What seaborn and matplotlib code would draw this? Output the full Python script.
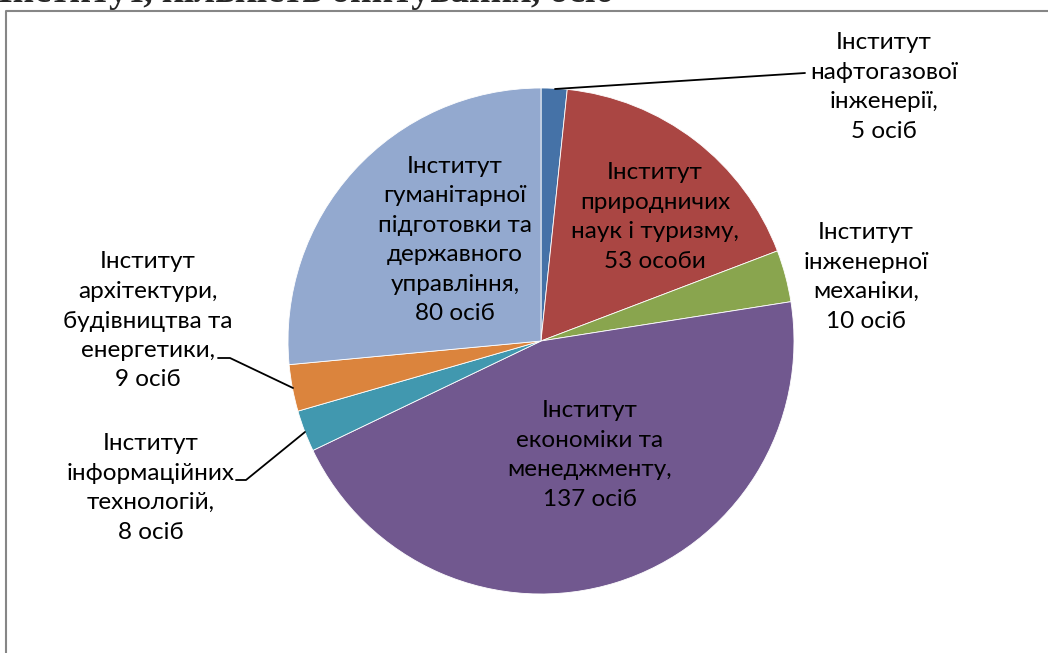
import matplotlib
matplotlib.use("Agg")
import matplotlib.pyplot as plt
import seaborn as sns

# data
institutes = [
    "Інститут\nнафтогазової\nінженерії,\n5 осіб",
    "Інститут\nприродничих\nнаук і туризму,\n53 особи",
    "Інститут\nінженерної\nмеханіки,\n10 осіб",
    "Інститут\nекономіки та\nменеджменту,\n137 осіб",
    "Інститут\nінформаційних\nтехнологій,\n8 осіб",
    "Інститут\nархітектури,\nбудівництва та\nенергетики,\n9 осіб",
    "Інститут\nгуманітарної\nпідготовки та\nдержавного\nуправління,\n80 осіб",
]
respondents = [5, 53, 10, 137, 8, 9, 80]
colors = ["#4572A7", "#AA4643", "#89A54E", "#71588F", "#4198AF", "#DB843D", "#93A9CF"]
title = "Інститут, кількість опитуваних, осіб"

sns.set_theme(style="white")
plt.rcParams["font.family"] = ["Lato", "DejaVu Sans"]

W, H = 1048, 653
fig = plt.figure(figsize=(W / 100, H / 100), dpi=100)
ax = fig.add_axes([0, 0, 1, 1])
ax.axis("off")

cx, cy, r = 541, H - 341, 253
ax.pie(respondents, colors=sns.color_palette(colors), startangle=90, counterclock=False,
       center=(cx, cy), radius=r, wedgeprops=dict(linewidth=0.6, edgecolor="white"))
ax.set_aspect("equal")
ax.set_xlim(0, W)
ax.set_ylim(0, H)

# label positions (pixels from top-left)
label_pos = [(884, 87), (655, 217), (866, 277), (590, 455), (151, 488), (148, 321), (455, 240)]
for txt, (px, py) in zip(institutes, label_pos):
    ax.text(px, H - py, txt, ha="center", va="center", fontsize=17.5,
            linespacing=1.5, color="black")

# leader lines
leaders = [
    [(555, 89), (805, 73)],
    [(293, 388), (230, 358), (218, 358)],
    [(305, 432), (246, 480), (236, 480)],
]
for pts in leaders:
    xs = [p[0] for p in pts]
    ys = [H - p[1] for p in pts]
    ax.plot(xs, ys, color="black", lw=1.3)

# border (only top and left visible)
ax.plot([6, 6, W + 5], [-5, H - 11, H - 11], color="#868686", lw=1.5, clip_on=False)

fig.text(-0.002, 1 - 2 / H, title, ha="left", va="baseline", fontsize=27,
         fontweight="bold", family=["Liberation Serif", "DejaVu Serif"])

fig.savefig("out.png", dpi=100)
